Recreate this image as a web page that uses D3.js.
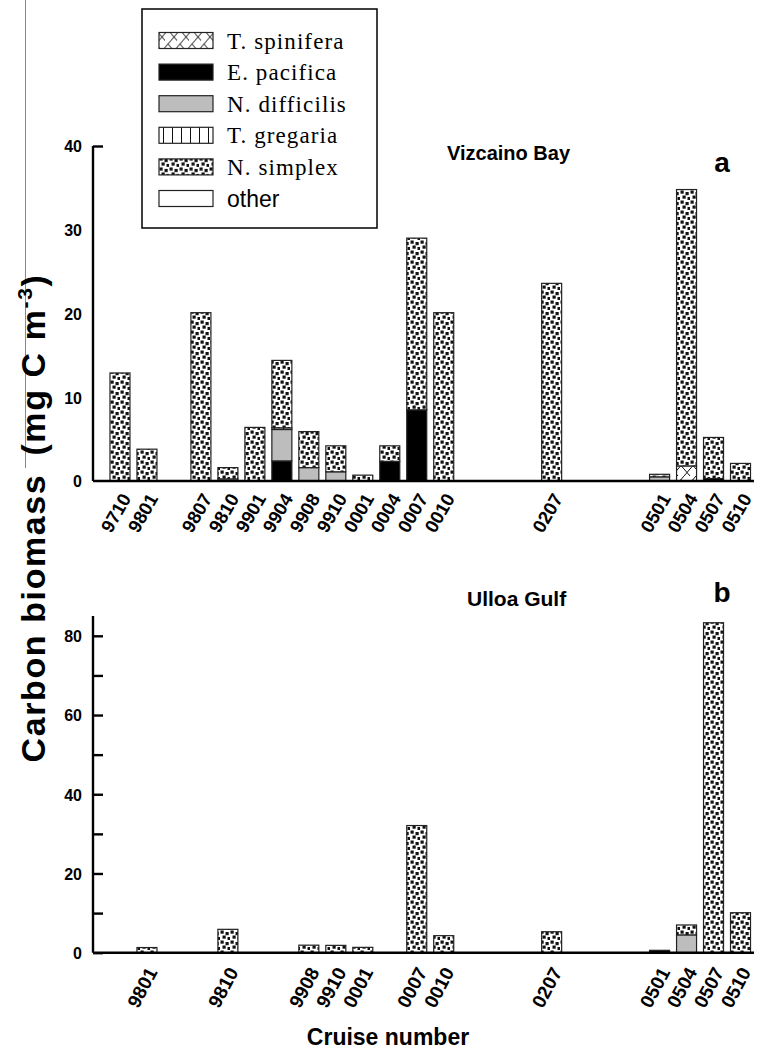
<!DOCTYPE html>
<html>
<head>
<meta charset="utf-8">
<script src="https://cdn.jsdelivr.net/npm/d3@7"></script>
<style>
  html, body { margin: 0; padding: 0; background: #fff; }
  svg { display: block; }
  text { font-family: "Liberation Sans", Arial, sans-serif; }
</style>
</head>
<body>
<svg id="chart" width="763" height="1057"></svg>
<script>
// ---- data -------------------------------------------------------------
const species = ["T. spinifera", "E. pacifica", "N. difficilis", "T. gregaria", "N. simplex", "other"];

// Vizcaino Bay cruises and their slot along the cruise axis
const cruisesA = ["9710","9801","9807","9810","9901","9904","9908","9910","0001","0004","0007","0010","0207","0501","0504","0507","0510"];
const slotsA   = [0, 1, 3, 4, 5, 6, 7, 8, 9, 10, 11, 12, 16, 20, 21, 22, 23];
const spiniferaA  = [0, 0, 0, 0, 0, 0, 0, 0, 0, 0, 0, 0, 0, 0, 1.8, 0, 0];
const pacificaA   = [0, 0, 0, 0, 0, 2.4, 0, 0, 0, 2.35, 8.5, 0, 0, 0, 0, 0.3, 0];
const difficilisA = [0, 0, 0, 0.25, 0, 3.75, 1.6, 1.1, 0, 0, 0, 0, 0, 0.5, 0, 0, 0];
const gregariaA   = [0, 0, 0, 0, 0, 0.2, 0, 0, 0, 0, 0, 0, 0, 0, 0, 0, 0];
const simplexA    = [12.9, 3.8, 20.1, 1.35, 6.4, 8.05, 4.3, 3.1, 0.7, 1.85, 20.5, 20.1, 23.6, 0.3, 33.0, 4.9, 2.1];
const otherA      = [0, 0, 0, 0, 0, 0, 0, 0, 0, 0, 0, 0, 0, 0, 0, 0, 0];

// Ulloa Gulf cruises
const cruisesB = ["9801","9810","9908","9910","0001","0007","0010","0207","0501","0504","0507","0510"];
const slotsB   = [1, 4, 7, 8, 9, 11, 12, 16, 20, 21, 22, 23];
const spiniferaB  = [0, 0, 0, 0, 0, 0, 0, 0, 0, 0, 0, 0];
const pacificaB   = [0, 0, 0, 0, 0, 0, 0, 0, 0.6, 0, 0, 0];
const difficilisB = [0, 0, 0, 0, 0, 0, 0, 0, 0, 4.5, 0, 0];
const gregariaB   = [0, 0, 0, 0, 0, 0, 0, 0, 0, 0, 0, 0];
const simplexB    = [1.3, 5.9, 1.9, 1.85, 1.35, 32.1, 4.3, 5.3, 0, 2.5, 83.3, 10.1];
const otherB      = [0, 0, 0, 0, 0, 0, 0, 0, 0, 0, 0, 0];

const ticksA = [0, 10, 20, 30, 40];
const tickMarksA = [40];
const ticksB = [0, 10, 20, 30, 40, 50, 60, 70, 80];
const tickLabelsB = [0, 20, 40, 60, 80];

// ---- helpers ----------------------------------------------------------
function rows(cruises, slots, cols) {
  return cruises.map((c, i) => {
    const r = { cruise: c, slot: slots[i] };
    species.forEach((s, k) => { r[s] = cols[k][i]; });
    return r;
  });
}

const svg = d3.select("#chart");
const defs = svg.append("defs");

// fill patterns
const pSpin = defs.append("pattern").attr("id", "p-spin")
  .attr("patternUnits", "userSpaceOnUse").attr("width", 12).attr("height", 14);
pSpin.append("rect").attr("width", 12).attr("height", 14).attr("fill", "#fff");
pSpin.append("path").attr("d", "M0,14 L12,0 M6,14 L0,7 M12,7 L9,3.5")
  .attr("stroke", "#111").attr("stroke-width", 1).attr("fill", "none");

const pGreg = defs.append("pattern").attr("id", "p-greg")
  .attr("patternUnits", "userSpaceOnUse").attr("width", 9).attr("height", 10);
pGreg.append("rect").attr("width", 9).attr("height", 10).attr("fill", "#fff");
pGreg.append("path").attr("d", "M4.5,0 V10").attr("stroke", "#111").attr("stroke-width", 1);

const pSimp = defs.append("pattern").attr("id", "p-simp")
  .attr("patternUnits", "userSpaceOnUse").attr("width", 10).attr("height", 10);
pSimp.append("rect").attr("width", 10).attr("height", 10).attr("fill", "#fff");
[[0.5, 0.5], [5.5, 2.0], [2.5, 5.5], [7.5, 7.0]].forEach(([x, y]) =>
  pSimp.append("rect").attr("x", x).attr("y", y).attr("width", 3.2).attr("height", 3.2).attr("fill", "#111"));

const fills = {
  "T. spinifera": "url(#p-spin)",
  "E. pacifica": "#000",
  "N. difficilis": "#bdbdbd",
  "T. gregaria": "url(#p-greg)",
  "N. simplex": "url(#p-simp)",
  "other": "#fff"
};

const x = d3.scaleLinear().domain([-1, 23.5]).range([93, 754]);
const barW = 20;
const stack = d3.stack().keys(species);

function panel(data, y, ticks, tickMarks, tickLabels, lab, title, letter) {
  const g = svg.append("g");
  const [y0, y1] = y.range();

  // stacked bars
  const layers = stack(data);
  layers.forEach(layer => {
    g.append("g").selectAll("rect")
      .data(layer.filter(d => d[1] - d[0] > 0))
      .join("rect")
      .attr("x", d => x(d.data.slot) - barW / 2)
      .attr("width", barW)
      .attr("y", d => y(d[1]))
      .attr("height", d => y(d[0]) - y(d[1]))
      .attr("fill", fills[layer.key])
      .attr("stroke", "#222")
      .attr("stroke-width", 1.2);
  });

  // y axis with inward ticks
  const ax = d3.axisRight(y).tickValues(ticks).tickSize(10)
    .tickFormat(d => tickLabels.includes(d) ? d : "");
  const axg = g.append("g").attr("transform", `translate(${x.range()[0]},0)`).call(ax);
  axg.select(".domain").attr("d", `M0,${y0}V${y1}`).attr("stroke", "#000").attr("stroke-width", 2.4);
  axg.selectAll(".tick line").attr("stroke", "#000").attr("stroke-width", 2.4)
    .attr("x2", d => tickMarks.includes(d) ? 10 : 0);
  axg.selectAll(".tick text")
    .attr("x", -11).attr("text-anchor", "end").attr("dy", "0.36em")
    .style("font-size", "16px").style("font-weight", "bold").attr("fill", "#000");

  // baseline
  g.append("line").attr("x1", x.range()[0]).attr("x2", x.range()[1])
    .attr("y1", y0).attr("y2", y0).attr("stroke", "#000").attr("stroke-width", 2.4);

  // rotated cruise labels
  g.append("g").selectAll("text").data(data).join("text")
    .attr("transform", d => `translate(${x(d.slot) + lab.dx},${y0 + lab.dy}) rotate(${lab.angle})`)
    .attr("text-anchor", "end").attr("dy", "0.36em")
    .style("font-size", lab.size + "px").style("font-weight", "bold")
    .text(d => d.cruise);

  g.append("text").attr("x", title.x).attr("y", title.y)
    .style("font-size", title.size + "px").style("font-weight", "bold").text(title.text);
  g.append("text").attr("x", letter.x).attr("y", letter.y).attr("text-anchor", "middle")
    .style("font-size", "28px").style("font-weight", "bold").text(letter.text);
}

const dataA = rows(cruisesA, slotsA, [spiniferaA, pacificaA, difficilisA, gregariaA, simplexA, otherA]);
const dataB = rows(cruisesB, slotsB, [spiniferaB, pacificaB, difficilisB, gregariaB, simplexB, otherB]);

const yA = d3.scaleLinear().domain([0, 40]).range([481, 146]);
const yB = d3.scaleLinear().domain([0, 85]).range([952.7, 616]);

panel(dataA, yA, ticksA, tickMarksA, ticksA,
  { dx: 6, dy: 14, angle: -60, size: 18.5 },
  { text: "Vizcaino Bay", x: 447, y: 160, size: 20 },
  { text: "a", x: 722, y: 172 });
panel(dataB, yB, ticksB, ticksB, tickLabelsB,
  { dx: 5, dy: 16, angle: -62, size: 19 },
  { text: "Ulloa Gulf", x: 467, y: 606, size: 21 },
  { text: "b", x: 722, y: 602 });

// thin rule at the far left
svg.append("line").attr("x1", 25.5).attr("x2", 25.5).attr("y1", 0).attr("y2", 468)
  .attr("stroke", "#888").attr("stroke-width", 1);

// axis titles
const yt = svg.append("text")
  .attr("transform", "translate(45,518) rotate(-90)")
  .attr("text-anchor", "middle")
  .style("font-size", "34px").style("font-weight", "bold")
  .style("letter-spacing", "1.6px");
yt.append("tspan").text("Carbon biomass");
yt.append("tspan").attr("dx", 18).text("(mg C m");
yt.append("tspan").attr("dy", -13).style("font-size", "21px").text("-3");
yt.append("tspan").attr("dy", 13).text(")");

svg.append("text").attr("x", 388).attr("y", 1045).attr("text-anchor", "middle")
  .style("font-size", "23px").style("font-weight", "bold").text("Cruise number");

// legend
const lg = svg.append("g");
lg.append("rect").attr("x", 142).attr("y", 9).attr("width", 235).attr("height", 219)
  .attr("fill", "#fff").attr("stroke", "#000").attr("stroke-width", 1.5);
const item = lg.selectAll("g.item").data(species).join("g").attr("class", "item")
  .attr("transform", (d, i) => `translate(159,${40.5 + i * 31.6})`);
item.append("rect").attr("x", 0).attr("y", -8).attr("width", 54).attr("height", 16)
  .attr("fill", d => fills[d]).attr("stroke", "#222").attr("stroke-width", 1.2);
item.append("text").attr("x", 68).attr("dy", "0.35em")
  .style("font-family", d => d === "other" ? "'Liberation Sans', Arial, sans-serif" : "'Liberation Serif', 'Times New Roman', serif")
  .style("font-size", "23px")
  .style("letter-spacing", d => d === "other" ? "0px" : "1.1px")
  .text(d => d);
</script>
</body>
</html>
